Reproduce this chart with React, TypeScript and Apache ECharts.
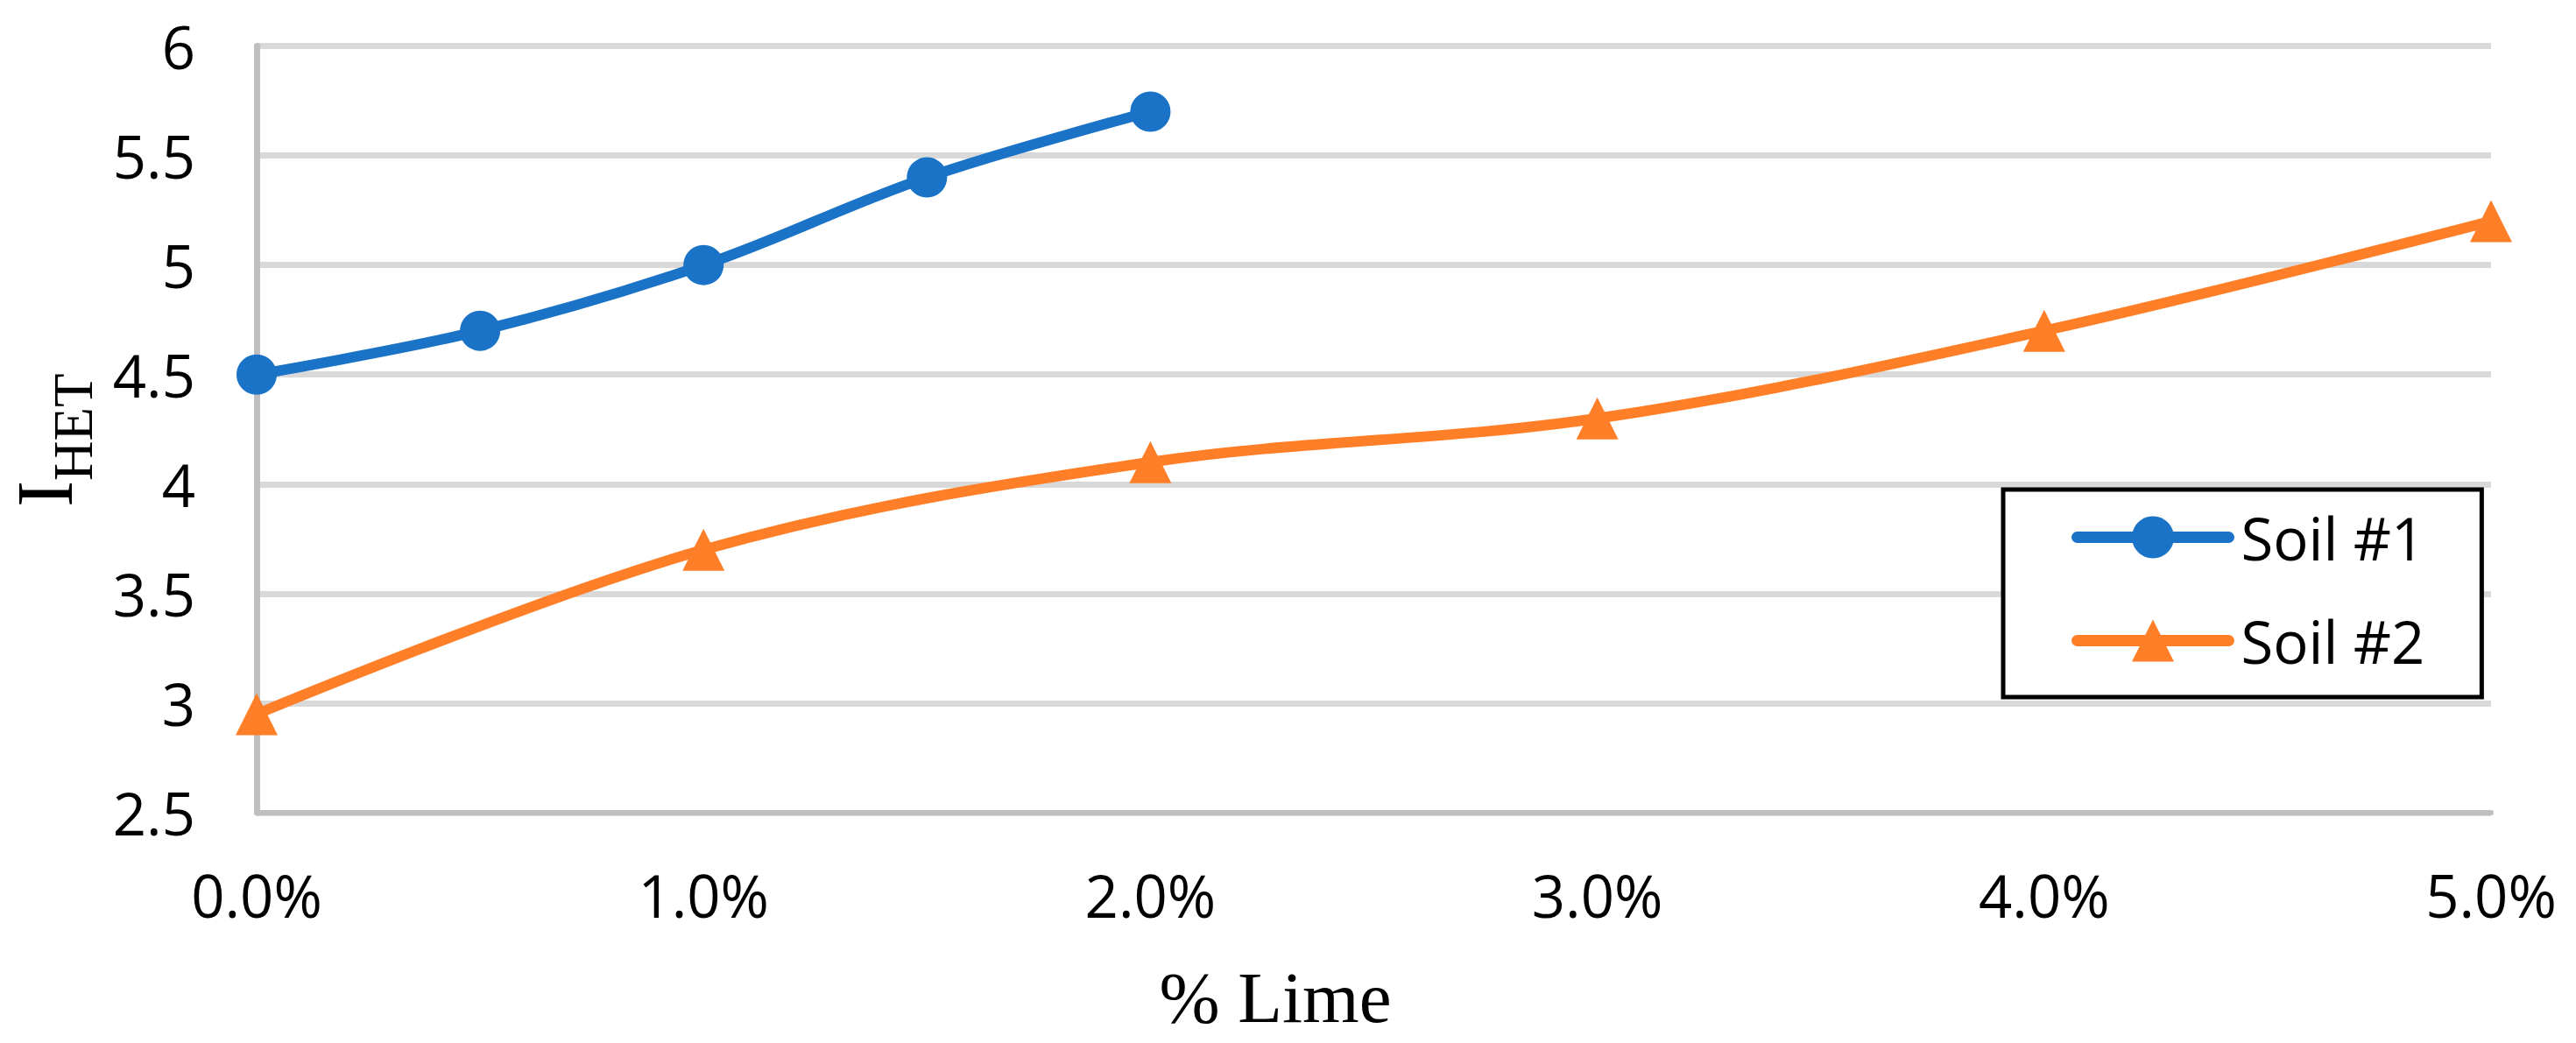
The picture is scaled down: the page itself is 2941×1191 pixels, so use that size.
import React, { useEffect, useRef } from "react";
import * as echarts from "echarts";

const limeSoil1 = [0, 0.5, 1.0, 1.5, 2.0];
const ihetSoil1 = [4.5, 4.7, 5.0, 5.4, 5.7];
const limeSoil2 = [0, 1, 2, 3, 4, 5];
const ihetSoil2 = [2.95, 3.7, 4.1, 4.3, 4.7, 5.2];
const seriesNames = ["Soil #1", "Soil #2"];
const xTitle = "% Lime";
const yTitleMain = "I";
const yTitleSub = "HET";

const BLUE = "#1a73c7";
const ORANGE = "#fe7f27";
const TICK_FONT = "Open Sans";
const SERIF = "Liberation Serif";

export default function App() {
  const ref = useRef<HTMLDivElement>(null);
  useEffect(() => {
    if (!ref.current) return;
    const chart = echarts.init(ref.current, undefined, { renderer: "svg" });
    const pts1 = limeSoil1.map((x, i) => [x, ihetSoil1[i]]);
    const pts2 = limeSoil2.map((x, i) => [x, ihetSoil2[i]]);
    chart.setOption({
      animation: false,
      backgroundColor: "#ffffff",
      grid: { left: 293, right: 97, top: 52.5, bottom: 263, containLabel: false },
      xAxis: {
        type: "value",
        min: 0,
        max: 5,
        interval: 1,
        axisLine: { show: true, lineStyle: { color: "#bfbfbf", width: 6 } },
        axisTick: { show: false },
        splitLine: { show: false },
        axisLabel: {
          margin: 60,
          color: "#000",
          fontFamily: TICK_FONT,
          fontSize: 67,
          formatter: (v: number) => `${v.toFixed(1)}%`,
        },
      },
      yAxis: {
        type: "value",
        min: 2.5,
        max: 6,
        interval: 0.5,
        axisLine: { show: true, lineStyle: { color: "#bfbfbf", width: 7 } },
        axisTick: { show: false },
        splitLine: { show: true, lineStyle: { color: "#d9d9d9", width: 7 } },
        axisLabel: {
          margin: 70,
          color: "#000",
          fontFamily: TICK_FONT,
          fontSize: 67,
          formatter: (v: number) => `${v}`,
        },
      },
      legend: {
        show: true,
        orient: "vertical",
        left: 2287,
        top: 559,
        padding: [21, 65, 31, 78],
        itemGap: 51,
        itemWidth: 173,
        itemHeight: 60,
        backgroundColor: "#fff",
        borderColor: "#000",
        borderWidth: 5,
        lineStyle: { width: 13, cap: "round" },
        textStyle: {
          fontFamily: TICK_FONT,
          fontSize: 67,
          color: "#000",
          padding: [0, 0, 0, 9],
        },
        data: seriesNames,
      },
      graphic: [
        {
          type: "text",
          x: 51,
          y: 579,
          rotation: Math.PI / 2,
          style: {
            text: yTitleMain,
            font: `91px "${SERIF}"`,
            fill: "#000",
            align: "left",
            verticalAlign: "middle",
          },
        },
        {
          type: "text",
          x: 84,
          y: 549,
          rotation: Math.PI / 2,
          style: {
            text: yTitleSub,
            font: `63px "${SERIF}"`,
            fill: "#000",
            align: "left",
            verticalAlign: "middle",
          },
        },
        {
          type: "text",
          x: 1456,
          y: 1139,
          style: {
            text: xTitle,
            font: `83px "${SERIF}"`,
            fill: "#000",
            align: "center",
            verticalAlign: "middle",
          },
        },
      ],
      series: [
        {
          name: seriesNames[0],
          type: "line",
          data: pts1,
          smooth: 0.35,
          symbol: "circle",
          symbolSize: 46,
          lineStyle: { color: BLUE, width: 12 },
          itemStyle: { color: BLUE },
          z: 3,
        },
        {
          name: seriesNames[1],
          type: "line",
          data: pts2,
          smooth: 0.35,
          symbol: "triangle",
          symbolSize: 48,
          lineStyle: { color: ORANGE, width: 12 },
          itemStyle: { color: ORANGE },
          z: 3,
        },
      ],
    });
    return () => chart.dispose();
  }, []);
  return (
    <div
      ref={ref}
      style={{ position: "fixed", left: 0, top: 0, width: 2941, height: 1191 }}
    />
  );
}
